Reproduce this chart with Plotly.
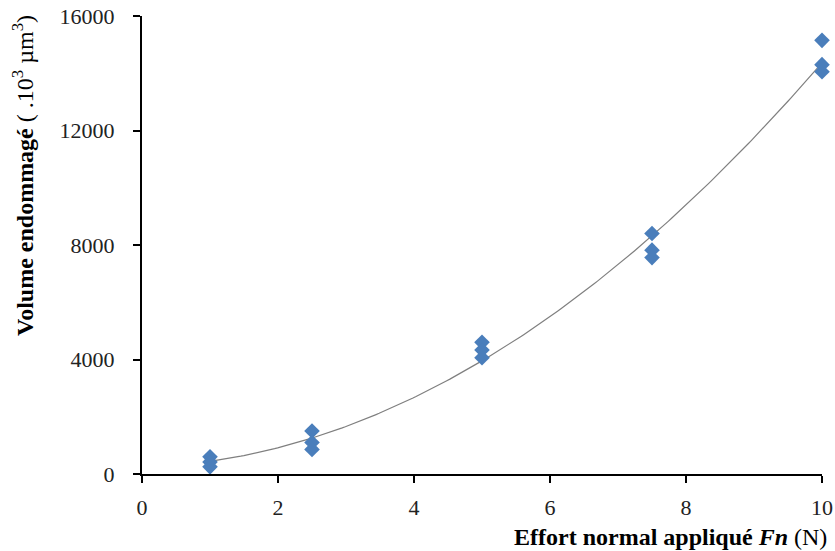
import numpy as np
import plotly.graph_objects as go

# Data
force_x = [1, 1, 1, 2.5, 2.5, 2.5, 5, 5, 5, 7.5, 7.5, 7.5, 10, 10, 10]
volume_y = [600, 420, 250, 1500, 1100, 860, 4600, 4330, 4060, 8400, 7820, 7560, 15150, 14300, 14050]
x_ticks = [0, 2, 4, 6, 8, 10]
y_ticks = [0, 4000, 8000, 12000, 16000]
y_tick_labels = ["0", "4000", "8000", "12000", "16000"]

# polynomial (order 2) trend line fitted to the data
coef = np.polyfit(force_x, volume_y, 2)
fit_x = np.linspace(1, 10, 200)
fit_y = np.polyval(coef, fit_x)

W, H = 835, 551
L, R, T, B = 142, 13, 16, 77
pw, ph = W - L - R, H - T - B

fig = go.Figure()
fig.add_trace(go.Scatter(x=fit_x, y=fit_y, mode="lines",
                         line=dict(color="#7f7f7f", width=1.2),
                         hoverinfo="skip", showlegend=False))
fig.add_trace(go.Scatter(x=force_x, y=volume_y, mode="markers",
                         marker=dict(symbol="diamond", size=12, color="#4a7ebb",
                                     line=dict(width=0)),
                         cliponaxis=False, showlegend=False))

font_family = "Liberation Serif, Times New Roman, serif"
axis_common = dict(showgrid=False, zeroline=False, showline=True, linecolor="black",
                   linewidth=2, ticks="outside", ticklen=7, tickwidth=2, tickcolor="black",
                   automargin=False,
                   tickfont=dict(family=font_family, size=22, color="#222"))

fig.update_layout(
    width=W, height=H,
    margin=dict(l=L, r=R, t=T, b=B),
    paper_bgcolor="white", plot_bgcolor="white",
    xaxis=dict(range=[0, 10], tickvals=x_ticks, ticklabelstandoff=6, **axis_common),
    yaxis=dict(range=[0, 16000], tickvals=y_ticks, ticktext=y_tick_labels,
               ticklabelstandoff=14, **axis_common),
    annotations=[
        dict(text="<b>Volume endommagé</b> ( .10<sup>3</sup> µm<sup>3</sup>)", textangle=-90,
             xref="paper", yref="paper", x=(23 - L) / pw, y=(H - B - 176) / ph,
             xanchor="center", yanchor="middle", showarrow=False,
             font=dict(family=font_family, size=24, color="black")),
        dict(text="<b>Effort normal appliqué <i>Fn</i></b> (N)",
             xref="paper", yref="paper", x=(829 - L) / pw, y=(H - B - 537) / ph,
             xanchor="right", yanchor="middle", showarrow=False,
             font=dict(family=font_family, size=24, color="black")),
    ],
)

fig.write_html("out.html", config={"displayModeBar": False},
               post_script="document.body.style.margin='0';document.body.style.overflow='hidden';")
